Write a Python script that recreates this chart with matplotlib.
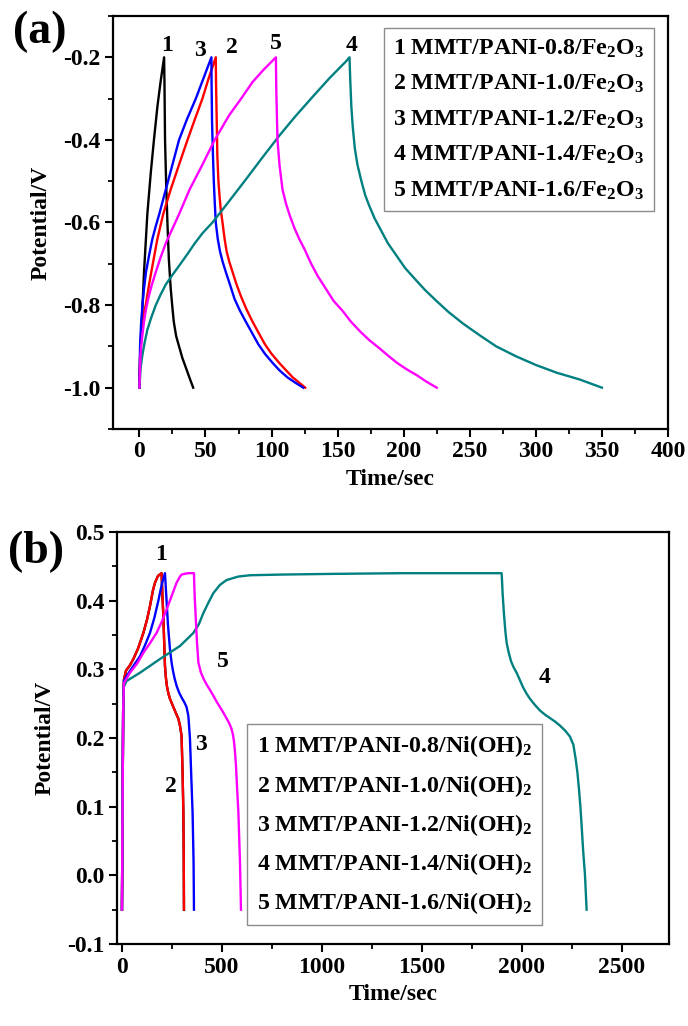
import matplotlib
matplotlib.use("Agg")
import matplotlib.pyplot as plt
from matplotlib.ticker import MultipleLocator
from matplotlib.lines import Line2D

plt.rcParams['font.family'] = ['Liberation Serif', 'DejaVu Serif']
plt.rcParams['font.weight'] = 'bold'
plt.rcParams['mathtext.fontset'] = 'custom'
plt.rcParams['mathtext.rm'] = 'Liberation Serif:bold'
plt.rcParams['mathtext.bf'] = 'Liberation Serif:bold'
plt.rcParams['mathtext.it'] = 'Liberation Serif:bold'

# ---------------- Panel (a): Fe2O3 electrodes ----------------
a_t1 = [0, 0.5, 1.8, 3.5, 6, 8.6, 11, 13.6, 16, 18.7, 19.0, 19.4, 20.2, 21.2, 22.3, 23.7, 24.8, 26, 27.8, 30, 32.5, 35, 37.8, 40.7]
a_v1 = [-1.0, -0.93, -0.84, -0.72, -0.58, -0.48, -0.40, -0.32, -0.26, -0.20, -0.27, -0.40, -0.50, -0.60, -0.69, -0.76, -0.80, -0.84, -0.875, -0.90, -0.928, -0.95, -0.975, -1.0]

a_t2 = [0, 0.7, 1.8, 3.2, 4.8, 6.8, 9, 11.3, 13.6, 18, 23.7, 30, 36.4, 42, 47.7, 52.5, 57.8,
        58, 58.5, 59, 59.8, 60.5, 61.6, 62.9, 64.5, 66, 68, 70.5, 73.5, 77, 81, 85.6, 90, 95, 100, 105.8, 111, 116, 121, 125.5]
a_v2 = [-1.0, -0.9, -0.85, -0.82, -0.80, -0.76, -0.72, -0.68, -0.64, -0.58, -0.52, -0.46, -0.40, -0.35, -0.30, -0.25, -0.20,
        -0.26, -0.35, -0.44, -0.50, -0.53, -0.57, -0.60, -0.64, -0.67, -0.695, -0.72, -0.75, -0.78, -0.81, -0.84, -0.866, -0.895, -0.918, -0.94, -0.958, -0.975, -0.988, -1.0]

a_t3 = [0, 0.5, 1.2, 2.3, 3.5, 5, 7.3, 9.8, 12.3, 15, 17.5, 20, 25, 30, 36, 42.7, 48, 54.5,
        54.6, 55, 55.6, 56.3, 57, 57.8, 59.3, 61, 63, 65.4, 68.5, 72, 76, 80.5, 85, 90, 95, 100.8, 106, 112, 118, 124]
a_v3 = [-1.0, -0.9, -0.85, -0.80, -0.76, -0.72, -0.68, -0.64, -0.61, -0.58, -0.55, -0.52, -0.46, -0.40, -0.35, -0.30, -0.255, -0.20,
        -0.26, -0.36, -0.43, -0.50, -0.55, -0.60, -0.64, -0.67, -0.695, -0.72, -0.75, -0.785, -0.813, -0.84, -0.866, -0.895, -0.918, -0.94, -0.958, -0.975, -0.988, -1.0]

a_t4 = [0, 1, 2.3, 4, 6, 9, 12.4, 16, 20, 25, 30, 36, 42, 48, 55.3, 68, 80.5, 93, 105.8, 118, 131, 144, 156.3, 159,
        159.5, 160.4, 161.5, 163, 165, 168, 171, 174, 178, 183, 188, 194.5, 201, 208, 216, 224.8, 234, 245, 257, 270, 285, 300, 316, 333, 350]
a_v4 = [-1.0, -0.95, -0.92, -0.89, -0.86, -0.83, -0.80, -0.775, -0.75, -0.727, -0.705, -0.678, -0.65, -0.625, -0.60, -0.548, -0.496, -0.443, -0.39, -0.343, -0.296, -0.25, -0.21, -0.20,
        -0.25, -0.32, -0.37, -0.42, -0.46, -0.50, -0.535, -0.56, -0.59, -0.62, -0.65, -0.68, -0.71, -0.735, -0.763, -0.79, -0.817, -0.845, -0.872, -0.90, -0.924, -0.945, -0.964, -0.98, -1.0]

a_t5 = [0, 0.8, 2, 3.5, 5, 7, 9.5, 12.4, 16, 20, 25, 30, 38, 47.7, 57, 68, 77, 85.6, 94, 103.3,
        103.6, 104.5, 106, 108.3, 111, 114, 117.5, 121, 125, 130, 135, 141, 147, 154, 160, 167.7, 174, 181.8, 188, 195, 202, 210, 217, 225]
a_v5 = [-1.0, -0.92, -0.88, -0.84, -0.81, -0.78, -0.75, -0.72, -0.685, -0.65, -0.615, -0.58, -0.52, -0.46, -0.40, -0.34, -0.30, -0.26, -0.23, -0.20,
        -0.28, -0.40, -0.46, -0.52, -0.555, -0.585, -0.615, -0.64, -0.665, -0.70, -0.73, -0.76, -0.79, -0.815, -0.84, -0.866, -0.885, -0.905, -0.922, -0.94, -0.955, -0.97, -0.985, -1.0]

a_labels = ['1 MMT/PANI-0.8/Fe$_\\mathrm{2}$O$_\\mathrm{3}$',
            '2 MMT/PANI-1.0/Fe$_\\mathrm{2}$O$_\\mathrm{3}$',
            '3 MMT/PANI-1.2/Fe$_\\mathrm{2}$O$_\\mathrm{3}$',
            '4 MMT/PANI-1.4/Fe$_\\mathrm{2}$O$_\\mathrm{3}$',
            '5 MMT/PANI-1.6/Fe$_\\mathrm{2}$O$_\\mathrm{3}$']
a_tag_text = ['1', '3', '2', '5', '4']
a_tag_t = [21, 45.5, 70, 103, 160.6]
a_tag_v = [-0.171, -0.183, -0.176, -0.166, -0.171]

# ---------------- Panel (b): Ni(OH)2 electrodes ----------------
b_t2 = [0, 3, 6, 10, 20, 40, 57, 80, 107, 125, 140, 155, 165, 180, 198,
        202, 207, 211, 215, 220, 225, 232, 240, 250, 260, 270, 282, 290, 298, 303, 307, 309, 310]
b_v2 = [-0.05, 0.10, 0.24, 0.285, 0.298, 0.306, 0.315, 0.33, 0.353, 0.372, 0.392, 0.415, 0.426, 0.436, 0.44,
        0.41, 0.377, 0.34, 0.305, 0.287, 0.275, 0.265, 0.257, 0.25, 0.243, 0.236, 0.228, 0.218, 0.203, 0.15, 0.092, 0.02, -0.05]

b_t1 = [0, 3, 6, 10, 20, 40, 57, 80, 107, 125, 140, 155, 165, 180, 198,
        202, 207, 211, 215, 220, 225, 232, 240, 250, 260, 270, 282, 290, 298, 303, 307, 309, 310]
b_v1 = [-0.05, 0.10, 0.24, 0.285, 0.298, 0.306, 0.315, 0.33, 0.353, 0.372, 0.392, 0.415, 0.426, 0.436, 0.44,
        0.41, 0.377, 0.34, 0.305, 0.287, 0.275, 0.265, 0.257, 0.25, 0.243, 0.236, 0.228, 0.218, 0.203, 0.15, 0.092, 0.02, -0.05]

b_t3 = [0, 3, 6, 10, 23, 50, 90, 115, 140, 162, 182, 200, 215,
        218, 223, 230, 240, 248, 255, 263, 273, 286, 300, 312, 323, 332, 340, 347, 353, 358, 360]
b_v3 = [-0.05, 0.10, 0.24, 0.283, 0.29, 0.302, 0.319, 0.335, 0.353, 0.375, 0.40, 0.425, 0.44,
        0.425, 0.40, 0.365, 0.329, 0.31, 0.298, 0.287, 0.276, 0.266, 0.258, 0.252, 0.245, 0.232, 0.199, 0.14, 0.092, 0.02, -0.05]

b_t4 = [0, 3, 6, 10, 23, 90, 190, 290, 357, 385, 407, 432, 457, 490, 523, 580, 640, 800, 1057, 1400, 1700, 1898,
        1900, 1903, 1910, 1917, 1923, 1933, 1945, 1958, 1973, 1990, 2005, 2022, 2040, 2065, 2090, 2115, 2140, 2165, 2190,
        2215, 2240, 2257, 2268, 2277, 2285, 2292, 2298, 2306, 2315, 2323]
b_v4 = [-0.05, 0.10, 0.24, 0.275, 0.283, 0.295, 0.315, 0.334, 0.353, 0.366, 0.382, 0.397, 0.411, 0.423, 0.43, 0.435, 0.437, 0.438, 0.439, 0.44, 0.44, 0.44,
        0.43, 0.411, 0.38, 0.355, 0.339, 0.325, 0.312, 0.303, 0.295, 0.284, 0.274, 0.265, 0.257, 0.248, 0.24, 0.234, 0.229, 0.224, 0.218,
        0.211, 0.202, 0.19, 0.17, 0.15, 0.125, 0.10, 0.073, 0.035, 0.0, -0.05]

b_t5 = [0, 3, 6, 10, 40, 75, 107, 140, 173, 200, 223, 250, 273, 290, 298, 330, 360,
        363, 368, 375, 382, 395, 410, 425, 440, 458, 475, 490, 507, 520, 530, 540, 548, 555, 560, 565, 570, 576, 582, 590, 595]
b_v5 = [-0.05, 0.10, 0.24, 0.28, 0.295, 0.308, 0.324, 0.338, 0.353, 0.37, 0.387, 0.408, 0.426, 0.435, 0.438, 0.44, 0.44,
        0.41, 0.38, 0.34, 0.31, 0.295, 0.285, 0.277, 0.27, 0.261, 0.252, 0.245, 0.237, 0.23, 0.225, 0.219, 0.213, 0.205, 0.195, 0.18, 0.16, 0.125, 0.092, 0.02, -0.05]

b_labels = ['1 MMT/PANI-0.8/Ni(OH)$_\\mathrm{2}$',
            '2 MMT/PANI-1.0/Ni(OH)$_\\mathrm{2}$',
            '3 MMT/PANI-1.2/Ni(OH)$_\\mathrm{2}$',
            '4 MMT/PANI-1.4/Ni(OH)$_\\mathrm{2}$',
            '5 MMT/PANI-1.6/Ni(OH)$_\\mathrm{2}$']
b_tag_text = ['1', '5', '3', '2', '4']
b_tag_t = [195, 506, 393, 243, 2112]
b_tag_v = [0.467, 0.312, 0.191, 0.129, 0.288]

colors = ['black', '#FF0000', '#0000FF', '#008080', '#FF00FF']

fig = plt.figure(figsize=(6.88, 10.26), dpi=100)
ax_a = fig.add_axes([0.1642, 0.5819, 0.8067, 0.4025])
ax_b = fig.add_axes([0.1700, 0.0799, 0.8024, 0.4016])

lw = 1.7

def style(ax):
    for s in ax.spines.values():
        s.set_linewidth(1.6)
    ax.tick_params(which='major', direction='out', length=6, width=1.5, labelsize=17, pad=3)
    ax.tick_params(which='minor', direction='out', length=3.5, width=1.3)
    for lab in ax.get_xticklabels() + ax.get_yticklabels():
        lab.set_fontweight('bold')

# panel a
a_series = [(a_t1, a_v1), (a_t2, a_v2), (a_t3, a_v3), (a_t4, a_v4), (a_t5, a_v5)]
for (t, v), c in zip(a_series, colors):
    ax_a.plot(t, v, color=c, lw=lw)
ax_a.set_xlim(-20, 400)
ax_a.set_ylim(-1.1, -0.1)
ax_a.xaxis.set_minor_locator(MultipleLocator(25))
ax_a.yaxis.set_minor_locator(MultipleLocator(0.1))
ax_a.set_xticks([0, 50, 100, 150, 200, 250, 300, 350, 400])
ax_a.set_yticks([-1.0, -0.8, -0.6, -0.4, -0.2])
ax_a.set_yticklabels(['-1.0', '-0.8', '-0.6', '-0.4', '-0.2'])
style(ax_a)
ax_a.set_xlabel('Time/sec', fontsize=17, fontweight='bold', labelpad=5)
ax_a.set_ylabel('Potential/V', fontsize=17, fontweight='bold', labelpad=8)
for s, t, v in zip(a_tag_text, a_tag_t, a_tag_v):
    ax_a.text(t, v, s, fontsize=17, fontweight='bold', ha='center', va='center')
handles = [Line2D([], [], linestyle='none') for _ in a_labels]
leg = ax_a.legend(handles, a_labels, loc='upper right', bbox_to_anchor=(0.975, 0.971),
                  handlelength=0, handletextpad=0, frameon=True, fancybox=False,
                  edgecolor='#707070', prop={'size': 17.2, 'weight': 'bold'},
                  labelspacing=0.55, borderpad=0.4, borderaxespad=0)
leg.get_frame().set_linewidth(1.0)
fig.text(0.058, 0.969, '(a)', fontsize=33, fontweight='bold', ha='center', va='center')

# panel b
b_series = [(b_t1, b_v1), (b_t2, b_v2), (b_t3, b_v3), (b_t4, b_v4), (b_t5, b_v5)]
for (t, v), c in zip(b_series, colors):
    ax_b.plot(t, v, color=c, lw=lw)
ax_b.set_xlim(-25, 2735)
ax_b.set_ylim(-0.1, 0.5)
ax_b.xaxis.set_minor_locator(MultipleLocator(250))
ax_b.yaxis.set_minor_locator(MultipleLocator(0.05))
ax_b.set_xticks([0, 500, 1000, 1500, 2000, 2500])
ax_b.set_yticks([-0.1, 0.0, 0.1, 0.2, 0.3, 0.4, 0.5])
ax_b.set_yticklabels(['-0.1', '0.0', '0.1', '0.2', '0.3', '0.4', '0.5'])
style(ax_b)
ax_b.set_xlabel('Time/sec', fontsize=17, fontweight='bold', labelpad=5)
ax_b.set_ylabel('Potential/V', fontsize=17, fontweight='bold', labelpad=8)
for s, t, v in zip(b_tag_text, b_tag_t, b_tag_v):
    ax_b.text(t, v, s, fontsize=17, fontweight='bold', ha='center', va='center')
handles = [Line2D([], [], linestyle='none') for _ in b_labels]
leg = ax_b.legend(handles, b_labels, loc='upper left', bbox_to_anchor=(0.236, 0.534),
                  handlelength=0, handletextpad=0, frameon=True, fancybox=False,
                  edgecolor='#707070', prop={'size': 17.2, 'weight': 'bold'},
                  labelspacing=0.55, borderpad=0.4, borderaxespad=0)
leg.get_frame().set_linewidth(1.0)
fig.text(0.053, 0.462, '(b)', fontsize=33, fontweight='bold', ha='center', va='center')

fig.savefig('out.png', dpi=100)
